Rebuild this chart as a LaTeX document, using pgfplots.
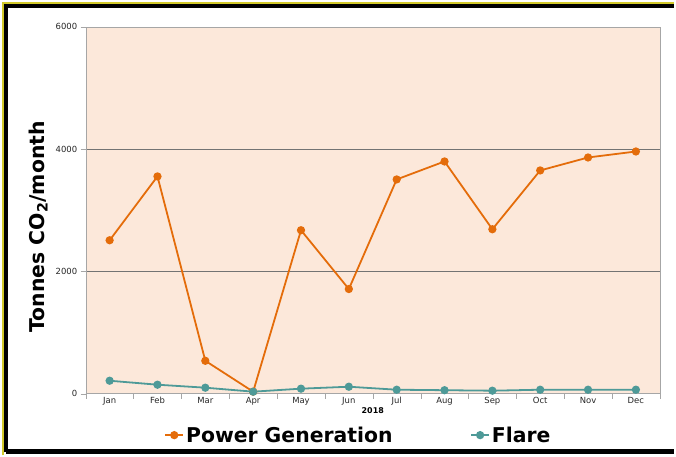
\documentclass[border=0pt]{standalone}
\usepackage{fontspec}
\setmainfont{DejaVu Sans}
\usepackage{pgfplots}
\pgfplotsset{compat=1.18}
\definecolor{pgen}{HTML}{E46C0A}
\definecolor{flare}{HTML}{4E9A98}
\definecolor{plotbg}{HTML}{FCE8DA}
\definecolor{axgray}{HTML}{A6A6A6}

\begin{document}
\begin{tikzpicture}
\fill[white] (0bp,0bp) rectangle (676bp,457bp);
% outer frame
\draw[yellow!80!black,line width=1.2bp] (3bp,0bp) -- (3bp,454bp) -- (676bp,454bp);
\draw[black,line width=4.5bp] (6bp,3bp) -- (6bp,451bp) -- (676bp,451bp);
\draw[black,line width=4.5bp] (6bp,4bp) -- (676bp,4bp);
\begin{axis}[
    at={(86bp,62bp)}, anchor=south west,
    scale only axis, width=576bp, height=368bp,
    xmin=-0.5, xmax=11.5, ymin=0, ymax=6000,
    axis background/.style={fill=plotbg},
    axis line style={axgray},
    ytick={0,2000,4000,6000},
    scaled y ticks=false,
    /pgf/number format/1000 sep={},
    ymajorgrids, grid style={black!55, line width=0.5bp},
    xtick={-0.5,0.5,...,11.5}, xticklabels={},
    extra x ticks={0,...,11},
    extra x tick labels={Jan,Feb,Mar,Apr,May,Jun,Jul,Aug,Sep,Oct,Nov,Dec},
    extra x tick style={major tick length=0pt, grid=none},
    tick align=outside, major tick length=5bp, tick pos=left,
    tick style={axgray},
    every tick label/.append style={font=\fontsize{8.5}{10}\selectfont, text=black!85},
    /pgf/number format/assume math mode=true,
    xlabel={\textbf{2018}},
    xlabel style={font=\fontsize{8}{9}\selectfont, yshift=10bp},
    ylabel={\textbf{Tonnes CO\textsubscript{2}/month}},
    ylabel style={font=\fontsize{20.5}{24}\selectfont, at={(axis description cs:-0.083,0.455)}, anchor=center},
    clip=false,
    legend style={at={(0.475,-0.113)}, anchor=center, draw=none, fill=none,
        legend columns=2, font=\fontsize{20.5}{24}\selectfont\bfseries,
        /tikz/every even column/.append style={column sep=76bp},
        inner sep=0pt},
    legend image code/.code={\draw[mark repeat=2,mark phase=2] plot coordinates {(0bp,0bp) (9bp,0bp) (18bp,0bp)};},
]
\addplot[pgen, line width=1.8bp, mark=*, mark size=3.2bp] coordinates {
(0,2510) (1,3554) (2,538) (3,33) (4,2674) (5,1712) (6,3505) (7,3799) (8,2690) (9,3652) (10,3864) (11,3962)};
\addplot[flare, line width=1.8bp, mark=*, mark size=3.2bp] coordinates {
(0,212) (1,147) (2,98) (3,33) (4,82) (5,114) (6,65) (7,57) (8,49) (9,65) (10,65) (11,65)};
\legend{Power Generation, Flare}
\end{axis}
\end{tikzpicture}
\end{document}
